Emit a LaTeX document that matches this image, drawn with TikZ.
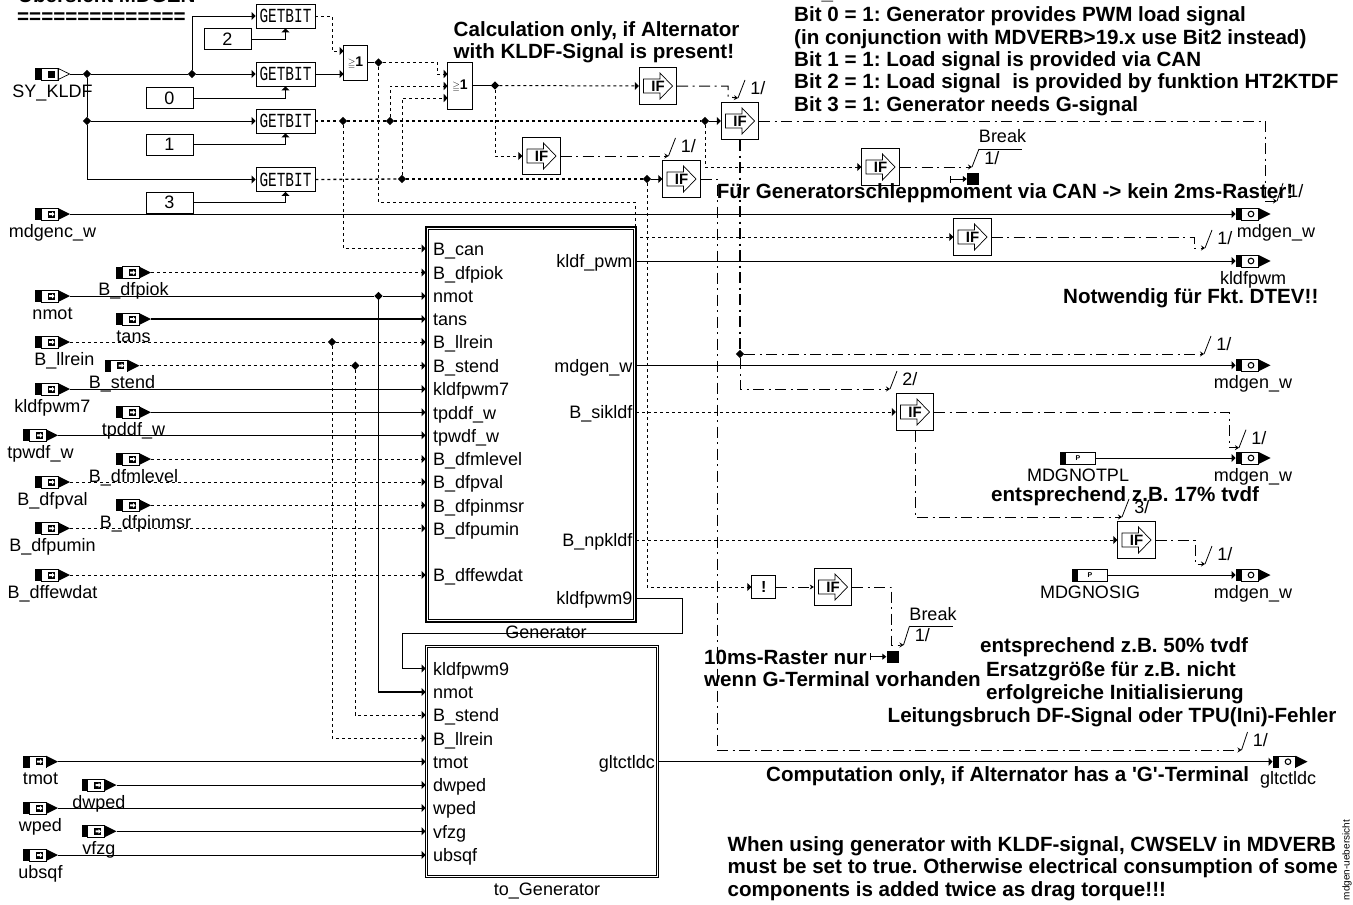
\documentclass[tikz,border=0pt]{standalone}
\usepackage{amsmath,amssymb}
\usepackage{fontspec}
\setmainfont{Liberation Sans}
\newfontfamily\bitfont{Liberation Mono}
\usetikzlibrary{arrows.meta,shapes.geometric}
\frenchspacing
\newcommand{\portbody}{%
  \fill (path picture bounding box.west) ++(0pt,6pt) rectangle ++(6pt,-12pt);
  \draw (path picture bounding box.west) ++(6pt,6pt) rectangle ++(17pt,-12pt);}
\newcommand{\bitname}{\scalebox{.72}[1]{GETBIT}}
\tikzset{
  lbl/.style={inner sep=0pt,font=\fontsize{18}{20}\selectfont,text height=13pt,text depth=3.5pt},
  plab/.style={lbl,label distance=4pt},
  pinl/.style={lbl,anchor=west,inner xsep=7.5pt,text height=16pt,text depth=2.6pt},
  pinr/.style={lbl,anchor=east,inner xsep=3.3pt,text height=16pt,text depth=2.6pt},
  note/.style={inner sep=0pt,font=\fontsize{20.6}{22.3}\selectfont\bfseries,align=left,anchor=base west},
  ticktext/.style={lbl,anchor=north west,xshift=5pt,yshift=-1pt},
  jdot/.style={diamond,fill=black,inner sep=0pt,minimum size=8.5pt},
  blockbox/.style={draw,line width=1.1pt,inner sep=0pt,
    path picture={\draw[line width=.9pt] ([shift={(2.2pt,-2.2pt)}]path picture bounding box.north west)
      rectangle ([shift={(-2.2pt,2.2pt)}]path picture bounding box.south east);}},
  bitbox/.style={draw,line width=.9pt,minimum width=59pt,minimum height=24pt,inner sep=0pt,
              font=\bitfont\fontsize{20}{20}\selectfont},
  constbox/.style={draw,line width=.9pt,minimum width=47pt,minimum height=21pt,inner sep=0pt,
              font=\fontsize{18}{18}\selectfont},
  orbox/.style={draw,line width=.9pt,minimum width=24.5pt,inner sep=0pt,font=\fontsize{14}{14}\selectfont\bfseries},
  notbox/.style={draw,line width=.9pt,minimum width=24pt,minimum height=23pt,inner sep=0pt,font=\fontsize{16}{16}\selectfont\bfseries},
  ifbox/.style={draw,line width=.9pt,minimum size=37.5pt,inner sep=0pt,font=\fontsize{15}{15}\selectfont\bfseries,
    path picture={\draw[line width=.7pt] (path picture bounding box.center) ++(-14.5pt,7pt) -- ++(16.5pt,0pt)
      -- ++(0pt,6pt) -- ++(12.5pt,-13pt) -- ++(-12.5pt,-13pt) -- ++(0pt,6pt) -- ++(-16.5pt,0pt) -- cycle;}},
  portsize/.style={minimum width=35pt,minimum height=12pt,inner sep=0pt,outer sep=0pt},
  inport/.style={portsize,path picture={\portbody
    \fill (path picture bounding box.east) ++(-12pt,6pt) -- ++(12pt,-6pt) -- ++(-12pt,-6pt) -- cycle;
    \fill (path picture bounding box.center) ++(-5pt,3.5pt) rectangle ++(7pt,-7pt);
    \fill[white] (path picture bounding box.center) ++(-3.5pt,1pt) -- ++(3pt,0pt) -- ++(0pt,1.5pt) -- ++(2.5pt,-2.5pt)
      -- ++(-2.5pt,-2.5pt) -- ++(0pt,1.5pt) -- ++(-3pt,0pt) -- cycle;}},
  tinport/.style={portsize,path picture={\portbody
    \draw[line width=.7pt] (path picture bounding box.east) ++(-12pt,5.6pt) -- ++(11.6pt,-5.6pt) -- ++(-11.6pt,-5.6pt) -- cycle;
    \fill (path picture bounding box.center) ++(-5pt,3.5pt) rectangle ++(7pt,-7pt);}},
  outport/.style={portsize,path picture={\portbody
    \fill (path picture bounding box.east) ++(-12pt,6pt) -- ++(12pt,-6pt) -- ++(-12pt,-6pt) -- cycle;
    \draw[line width=1.1pt] (path picture bounding box.center) ++(-2pt,0pt) circle (2.8pt);}},
  parport/.style={draw,line width=.9pt,minimum width=35.5pt,minimum height=12pt,inner sep=0pt,font=\fontsize{7}{7}\selectfont\bfseries,
    path picture={\fill (path picture bounding box.west) ++(0pt,6pt) rectangle ++(6pt,-12pt);}},
  sigwire/.style={line width=1pt},
  sigarrow/.style={sigwire,-{Triangle[length=4pt,width=8pt]}},
  boolwire/.style={line width=1pt,dash pattern=on 3pt off 3pt},
  boolarrow/.style={boolwire,-{Triangle[length=4pt,width=8pt]}},
  ctlwire/.style={line width=1pt,dash pattern=on 11pt off 4.5pt on 2pt off 4.5pt},
  ctlarrow/.style={ctlwire,-{Stealth[length=4pt,width=5pt]}},
  tickline/.style={line width=.8pt},
}
\begin{document}
\begin{tikzpicture}[x=1pt,y=-1pt]
  \useasboundingbox (0,0) rectangle (1353,905);
  % main blocks
  \node[blockbox,minimum width=210pt,minimum height=395pt] (gen) at (531,424.5) {};
  \node[blockbox,minimum width=233pt,minimum height=232.5pt] (togen) at (542,761.4) {};
  \node[lbl] (genname) at (546,634) {Generator};
  \node[lbl] (togenname) at (547,891) {to\_Generator};
  % pins of Generator
  \node[pinl] (gcan) at (425.5,248.5) {B\_can};
  \node[pinl] (gpiok) at (425.5,272.5) {B\_dfpiok};
  \node[pinl] (gnmot) at (425.5,296) {nmot};
  \node[pinl] (gtans) at (425.5,319) {tans};
  \node[pinl] (gllrein) at (425.5,342) {B\_llrein};
  \node[pinl] (gstend) at (425.5,365.7) {B\_stend};
  \node[pinl] (gpwm7) at (425.5,389) {kldfpwm7};
  \node[pinl] (gtpddf) at (425.5,412.3) {tpddf\_w};
  \node[pinl] (gtpwdf) at (425.5,435.3) {tpwdf\_w};
  \node[pinl] (glevel) at (425.5,459) {B\_dfmlevel};
  \node[pinl] (gpval) at (425.5,482) {B\_dfpval};
  \node[pinl] (gpinm) at (425.5,505.3) {B\_dfpinmsr};
  \node[pinl] (gpumin) at (425.5,528.3) {B\_dfpumin};
  \node[pinl] (gfew) at (425.5,575) {B\_dffewdat};
  \node[pinr] (gkpwm) at (636,261) {kldf\_pwm};
  \node[pinr] (gmdgen) at (636,365.3) {mdgen\_w};
  \node[pinr] (gsik) at (636,412) {B\_sikldf};
  \node[pinr] (gnpk) at (636,540) {B\_npkldf};
  \node[pinr] (gpwm9) at (636,598) {kldfpwm9};
  % pins of to_Generator
  \node[pinl] (tpwm9) at (425.5,668.5) {kldfpwm9};
  \node[pinl] (tnmot) at (425.5,692) {nmot};
  \node[pinl] (tstend) at (425.5,715) {B\_stend};
  \node[pinl] (tllrein) at (425.5,738.3) {B\_llrein};
  \node[pinl] (ttmot) at (425.5,761.7) {tmot};
  \node[pinl] (tdwped) at (425.5,785) {dwped};
  \node[pinl] (twped) at (425.5,808) {wped};
  \node[pinl] (tvfzg) at (425.5,831.3) {vfzg};
  \node[pinl] (tubsqf) at (425.5,855) {ubsqf};
  \node[pinr] (tglt) at (658.5,761.7) {gltctldc};
  % input ports
  \node[tinport,label={[plab]below:SY\_KLDF}] (sykldf) at (52.5,74) {};
  \node[inport,label={[plab]below:mdgenc\_w}] (mdgenc) at (52.5,214) {};
  \node[inport,label={[plab]below:B\_dfpiok}] (piok) at (133.5,272.5) {};
  \node[inport,label={[plab]below:nmot}] (nmot) at (52.5,296) {};
  \node[inport,label={[plab]below:tans}] (tans) at (133.5,319) {};
  \node[inport,label={[plab,xshift=12pt]below:B\_llrein}] (llrein) at (52.5,342) {};
  \node[inport,label={[plab]below:B\_stend}] (stend) at (122,365.7) {};
  \node[inport,label={[plab]below:kldfpwm7}] (pwm7) at (52.5,389) {};
  \node[inport,label={[plab]below:tpddf\_w}] (tpddf) at (133.5,412.3) {};
  \node[inport,label={[plab]below:tpwdf\_w}] (tpwdf) at (40.5,435.3) {};
  \node[inport,label={[plab]below:B\_dfmlevel}] (level) at (133.5,459) {};
  \node[inport,label={[plab]below:B\_dfpval}] (pval) at (52.5,482) {};
  \node[inport,label={[plab,xshift=12pt]below:B\_dfpinmsr}] (pinm) at (133.5,505.3) {};
  \node[inport,label={[plab]below:B\_dfpumin}] (pumin) at (52.5,528.3) {};
  \node[inport,label={[plab]below:B\_dffewdat}] (few) at (52.5,575) {};
  \node[inport,label={[plab]below:tmot}] (tmot) at (40.5,761.7) {};
  \node[inport,label={[plab]below:dwped}] (dwped) at (99,785) {};
  \node[inport,label={[plab]below:wped}] (wped) at (40.5,808) {};
  \node[inport,label={[plab]below:vfzg}] (vfzg) at (99,831.3) {};
  \node[inport,label={[plab]below:ubsqf}] (ubsqf) at (40.5,855) {};
  \node[parport,label={[plab]below:MDGNOTPL}] (notpl) at (1078,458) {P};
  \node[parport,label={[plab]below:MDGNOSIG}] (nosig) at (1090,575) {P};
  % output ports
  \node[outport,label={[plab,xshift=23pt]below:mdgen\_w}] (out1) at (1253,214) {};
  \node[outport,label={[plab]below:kldfpwm}] (out2) at (1253,261) {};
  \node[outport,label={[plab]below:mdgen\_w}] (out3) at (1253,365.3) {};
  \node[outport,label={[plab]below:mdgen\_w}] (out4) at (1253,458) {};
  \node[outport,label={[plab]below:mdgen\_w}] (out5) at (1253,575) {};
  \node[outport,label={[plab,xshift=-2pt]below:gltctldc}] (out6) at (1290,761.7) {};
  % bit extraction
  \node[bitbox] (bit2) at (285.5,16) {\bitname};
  \node[bitbox] (bit0) at (285.5,74) {\bitname};
  \node[bitbox] (bit1) at (285.5,121) {\bitname};
  \node[bitbox] (bit3) at (285.5,179.5) {\bitname};
  \node[constbox] (val2) at (227.5,39) {2};
  \node[constbox] (val0) at (169.5,98) {0};
  \node[constbox] (val1) at (169.5,144.5) {1};
  \node[constbox] (val3) at (169.5,202.5) {3};
  \node[orbox,minimum height=35pt] (orone) at (355.5,62.5) {$\scriptstyle\geqq$1};
  \node[orbox,minimum height=47pt] (ortwo) at (460,85.5) {$\scriptstyle\geqq$1};
  % conditional blocks
  \node[ifbox] (if1) at (658,86) {IF};
  \node[ifbox] (if2) at (541.5,156) {IF};
  \node[ifbox] (if3) at (740,121) {IF};
  \node[ifbox] (if4) at (681.5,179) {IF};
  \node[ifbox] (if5) at (880.5,167) {IF};
  \node[ifbox] (if6) at (972.5,237) {IF};
  \node[ifbox] (if7) at (915,412) {IF};
  \node[ifbox] (if8) at (1136.5,540) {IF};
  \node[ifbox] (if9) at (833,587) {IF};
  \node[notbox] (notb) at (763.7,587) {!};
  % branch points
  \node[jdot] (ja) at (87,74) {};
  \node[jdot] (jb) at (192,74) {};
  \node[jdot] (jc) at (87,121) {};
  \node[jdot] (jd) at (343,121) {};
  \node[jdot] (je) at (390,121) {};
  \node[jdot] (jf) at (705,121) {};
  \node[jdot] (jg) at (402,179) {};
  \node[jdot] (jh) at (647,179) {};
  \node[jdot] (ji) at (378.5,62.5) {};
  \node[jdot] (jk) at (495,85.5) {};
  \node[jdot] (jl) at (378.5,296) {};
  \node[jdot] (jm) at (332,342) {};
  \node[jdot] (jn) at (355.3,365.7) {};
  \node[jdot] (jo) at (740,354) {};
  % break marks
  \node[fill=black,minimum size=12pt,inner sep=0pt] (brka) at (973,179) {};
  \node[fill=black,minimum size=12pt,inner sep=0pt] (brkb) at (892.5,656.7) {};
  \coordinate (brkafree) at (949.5,179);
  \coordinate (brkbfree) at (869.5,656.7);
  % free ends
  \coordinate (or1a) at (343.5,51);
  \coordinate (or1b) at (343.5,74);
  \coordinate (or2a) at (447.7,74);
  \coordinate (or2b) at (447.7,86);
  \coordinate (or2c) at (447.7,98);
  \coordinate (c1) at (738,98);
  \coordinate (c2) at (668.5,156);
  \coordinate (c3) at (972,167);
  \coordinate (c4) at (1277,201);
  \coordinate (c5) at (1205,248);
  \coordinate (c6) at (1204,354);
  \coordinate (c7) at (890,389);
  \coordinate (c8) at (1239,447.7);
  \coordinate (c9) at (1122,517);
  \coordinate (c10) at (1205,564);
  \coordinate (c11) at (903.5,645);
  \coordinate (c12) at (1241.5,750);
  % bit inputs
  \draw[sigwire](sykldf.east)--(ja);\draw[sigwire](ja)--(jb);\draw[sigarrow](jb)--(bit0.west);
  \draw[sigarrow](jb)|-(bit2.west);\draw[sigwire](ja)--(jc);\draw[sigarrow](jc)--(bit1.west);
  \draw[sigarrow](jc)|-(bit3.west);
  \draw[sigarrow](val2.east)-|(bit2.south);\draw[sigarrow](val0.east)-|(bit0.south);
  \draw[sigarrow](val1.east)-|(bit1.south);\draw[sigarrow](val3.east)-|(bit3.south);
  % logic
  \draw[boolarrow](bit2.east)--++(17,0)|-(or1a);\draw[sigarrow](bit0.east)--(or1b);
  \draw[sigwire](orone.east)--(ji);\draw[boolarrow](ji)-|++(58.5,11.5)--(or2a);
  \draw[boolwire,line width=1.3pt](bit1.east)--(jd);\draw[boolwire,line width=1.3pt](jd)--(je);\draw[boolwire,line width=1.3pt](je)--(jf);
  \draw[sigarrow](jf)--(if3.west);\draw[boolarrow](je)|-(or2b);
  \draw[boolwire,line width=1.3pt](bit3.east)--(jg);\draw[boolwire,line width=1.3pt](jg)--(jh);\draw[sigarrow](jh)--(if4.west);
  \draw[boolarrow](jg)|-(or2c);\draw[boolarrow](jd)|-(gcan.west);
  \draw[sigwire](ortwo.east)--(jk);\draw[boolarrow](jk)--(if1.west);\draw[boolarrow](jk)|-(if2.west);
  \draw[boolarrow](ji)|-(635,202)|-(if6.west);
  \draw[boolarrow](jf)|-(if5.west);\draw[boolarrow](jh)|-(notb.west);
  \draw[ctlarrow](notb.east)--(if9.west);
  % enable lines
  \draw[ctlarrow](if1.east)-|(728,97)--(c1);
  \draw[ctlarrow](if2.east)--(c2);
  \draw[ctlarrow](if5.east)--(c3);
  \draw[ctlwire](if4.east)-|(717,750);\draw[ctlarrow](717,750)--(c12);
  \draw[ctlwire](if3.east)-|(1265,201);\draw[ctlarrow](1265,201)--(c4);
  \draw[ctlarrow](if6.east)-|(1194,248)--(c5);
  \draw[ctlwire,line width=1.3pt](if3.south)--(jo);\draw[ctlarrow](jo)--(c6);\draw[ctlarrow](jo)|-(c7);
  \draw[ctlarrow](if7.east)-|(1229,447.7)--(c8);
  \draw[ctlarrow](if7.south)|-(c9);
  \draw[ctlarrow](if8.east)-|(1195,564)--(c10);
  \draw[ctlarrow](if9.east)-|(891.7,645)--(c11);
  % ticks at the enable inputs
  \draw[tickline](c1)--++(7,-18)node[ticktext](tk1){1/};
  \draw[tickline](c2)--++(7,-18)node[ticktext](tk2){1/};
  \draw[tickline](c3)--++(7,-18)coordinate(c3top)node[ticktext,yshift=-1pt](tk3){1/};
  \draw[tickline](c3top)--++(43,0);
  \draw[tickline](c4)--++(6,-18)node[ticktext](tk4){1/};
  \draw[tickline](c5)--++(7,-18)node[ticktext](tk5){1/};
  \draw[tickline](c6)--++(7,-18)node[ticktext](tk6){1/};
  \draw[tickline](c7)--++(7,-18)node[ticktext](tk7){2/};
  \draw[tickline](c8)--++(7,-18)node[ticktext](tk8){1/};
  \draw[tickline](c9)--++(7,-18)node[ticktext](tk9){3/};
  \draw[tickline](c10)--++(7,-18)node[ticktext](tk10){1/};
  \draw[tickline](c11)--++(6,-19)coordinate(c11top)node[ticktext,yshift=-1pt](tk11){1/};
  \draw[tickline](c11top)--++(43,0);
  \draw[tickline](c12)--++(6,-18)node[ticktext](tk12){1/};
  \node[lbl] (brkatxt) at (1002.5,138) {Break};
  \node[lbl] (brkbtxt) at (933,616) {Break};
  \draw[sigarrow,|-{Triangle[length=4pt,width=6pt]}](brkafree)--(brka.west);
  \draw[sigarrow,|-{Triangle[length=4pt,width=6pt]}](brkbfree)--(brkb.west);
  % signal lines into and out of the blocks
  \draw[sigarrow](mdgenc.east)--(out1.west);
  \draw[boolarrow](piok.east)--(gpiok.west);
  \draw[sigwire](nmot.east)--(jl);\draw[sigarrow](jl)--(gnmot.west);\draw[sigarrow,line width=1.3pt](jl)|-(tnmot.west);
  \draw[sigarrow,line width=1.2pt](tans.east)--(gtans.west);
  \draw[boolwire](llrein.east)--(jm);\draw[boolarrow](jm)--(gllrein.west);\draw[boolarrow](jm)|-(tllrein.west);
  \draw[boolwire](stend.east)--(jn);\draw[boolarrow](jn)--(gstend.west);\draw[boolarrow](jn)|-(tstend.west);
  \draw[sigarrow](pwm7.east)--(gpwm7.west);
  \draw[sigarrow,line width=1.2pt](tpddf.east)--(gtpddf.west);
  \draw[sigarrow](tpwdf.east)--(gtpwdf.west);
  \draw[boolarrow](level.east)--(glevel.west);\draw[boolarrow](pval.east)--(gpval.west);
  \draw[boolarrow](pinm.east)--(gpinm.west);\draw[boolarrow](pumin.east)--(gpumin.west);
  \draw[boolarrow](few.east)--(gfew.west);
  \draw[sigarrow](gkpwm.east)--(out2.west);\draw[sigarrow](gmdgen.east)--(out3.west);
  \draw[boolarrow](gsik.east)--(if7.west);\draw[boolarrow](gnpk.east)--(if8.west);
  \draw[sigarrow](notpl.east)--(out4.west);\draw[sigarrow](nosig.east)--(out5.west);
  \draw[sigarrow](gpwm9.east)-|(682,633)-|(402,668.5)--(tpwm9.west);
  \draw[sigarrow](tmot.east)--(ttmot.west);\draw[sigarrow](dwped.east)--(tdwped.west);
  \draw[sigarrow](wped.east)--(twped.west);\draw[sigarrow](vfzg.east)--(tvfzg.west);
  \draw[sigarrow](ubsqf.east)--(tubsqf.west);\draw[sigarrow](tglt.east)--(out6.west);
  % comments
  \node[note] (title) at (18,2) {Übersicht MDGEN};
  \node[note] (rule) at (17,23) {==============};
  \node[note] (calc) at (453.5,58.3) {Calculation only, if Alternator\\with KLDF-Signal is present!};
  \node[note] (bits) at (794,111) {SY\_KLDF :\\Bit 0 = 1: Generator provides PWM load signal\\(in conjunction with MDVERB>19.x use Bit2 instead)\\Bit 1 = 1: Load signal is provided via CAN\\Bit 2 = 1: Load signal\ \ is provided by funktion HT2KTDF\\Bit 3 = 1: Generator needs G-signal};
  \node[note] (raster) at (716.7,198) {Für Generatorschleppmoment via CAN -> kein 2ms-Raster!};
  \node[note] (dtev) at (1063,303) {Notwendig für Fkt. DTEV!!};
  \node[note] (seventeen) at (991,501) {entsprechend z.B. 17\% tvdf};
  \node[note] (fifty) at (980,652.7) {entsprechend z.B. 50\% tvdf};
  \node[note] (ersatz) at (986,699) {Ersatzgröße für z.B. nicht\\erfolgreiche Initialisierung};
  \node[note] (bruch) at (887.5,722.7) {Leitungsbruch DF-Signal oder TPU(Ini)-Fehler};
  \node[note] (tenms) at (704,686.7) {10ms-Raster nur\\wenn G-Terminal vorhanden};
  \node[note] (gterm) at (766,781) {Computation only, if Alternator has a \textquotesingle G\textquotesingle-Terminal};
  \node[note] (warn) at (727.4,896) {When using generator with KLDF-signal, CWSELV in MDVERB\\must be set to true. Otherwise electrical consumption of some\\components is added twice as drag torque!!!};
  \node[inner sep=0pt,rotate=90,font=\fontsize{10}{10}\selectfont] (sheet) at (1347,860) {mdgen-uebersicht};
\end{tikzpicture}
\end{document}
